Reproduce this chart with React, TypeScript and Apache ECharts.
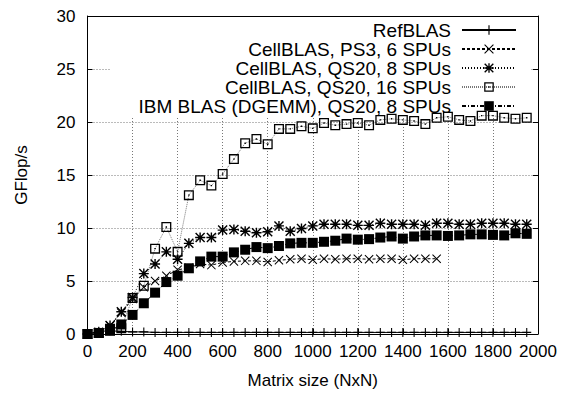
import React, { useEffect, useRef } from "react";
import * as echarts from "echarts";

const sizes = [0, 50, 100, 150, 200, 250, 300, 350, 400, 450, 500, 550, 600, 650, 700, 750, 800, 850, 900, 950,
  1000, 1050, 1100, 1150, 1200, 1250, 1300, 1350, 1400, 1450, 1500, 1550, 1600, 1650, 1700, 1750, 1800, 1850, 1900, 1950];

const refBlas = [0, 0.25, 0.3, 0.25, 0.2, 0.2, 0.15, 0.15, 0.15, 0.15, 0.15, 0.15, 0.15, 0.15, 0.15, 0.15, 0.15, 0.15, 0.15, 0.15,
  0.15, 0.15, 0.15, 0.15, 0.15, 0.15, 0.15, 0.15, 0.15, 0.15, 0.15, 0.15, 0.15, 0.15, 0.15, 0.15, 0.15, 0.15, 0.15, 0.15];

const ps3 = [0, 0.2, 0.8, 2.0, 3.3, 4.4, 5.0, 5.5, 6.05, 6.25, 6.6, 6.5, 6.75, 6.85, 6.9, 6.9, 6.8, 6.95, 7.05, 7.1,
  7.0, 7.1, 7.05, 7.1, 7.1, 7.05, 7.1, 7.1, 7.0, 7.1, 7.1, 7.1];

const qs20_8 = [0, 0.15, 0.8, 2.1, 3.45, 5.7, 6.6, 7.75, 7.05, 8.55, 9.1, 9.1, 9.8, 9.85, 9.7, 9.55, 9.65, 10.2, 9.7, 9.95,
  10.2, 10.35, 10.35, 10.35, 10.25, 10.25, 10.45, 10.35, 10.35, 10.35, 10.25, 10.45, 10.45, 10.35, 10.35, 10.45, 10.45, 10.45, 10.35, 10.35];

const qs20_16 = [0, 0.1, 0.5, 0.55, 3.4, 4.55, 8.05, 10.1, 7.75, 13.1, 14.5, 14.0, 15.1, 16.5, 18.0, 18.4, 17.9, 19.35, 19.35, 19.6,
  19.4, 19.9, 19.7, 19.8, 19.9, 19.7, 20.2, 20.3, 20.2, 20.1, 19.8, 20.4, 20.5, 20.2, 20.1, 20.6, 20.6, 20.4, 20.3, 20.4];

const dgemm = [0, 0.1, 0.3, 0.9, 1.8, 2.9, 3.9, 4.9, 5.5, 6.2, 6.85, 7.3, 7.3, 7.7, 7.95, 8.2, 8.1, 8.3, 8.55, 8.6,
  8.6, 8.7, 8.8, 9.0, 8.9, 8.95, 9.1, 9.2, 9.0, 9.2, 9.3, 9.3, 9.25, 9.3, 9.4, 9.4, 9.35, 9.3, 9.5, 9.45];

const seriesNames = [
  "RefBLAS",
  "CellBLAS, PS3, 6 SPUs",
  "CellBLAS, QS20, 8 SPUs",
  "CellBLAS, QS20, 16 SPUs",
  "IBM BLAS (DGEMM), QS20, 8 SPUs",
];

const xTicks = { min: 0, max: 2000, interval: 200 };
const yTicks = { min: 0, max: 30, interval: 5 };

const FONT = "Liberation Sans";

const PLUS = "path://M4.4,0H5.6V10H4.4Z M0,4.4H10V5.6H0Z";
const CROSS = "path://M0,0.8L0.8,0L10,9.2L9.2,10Z M9.2,0L10,0.8L0.8,10L0,9.2Z";
const STAR =
  "path://M4.3,0H5.7V10H4.3Z M0,4.3H10V5.7H0Z M0,1L1,0L10,9L9,10Z M9,0L10,1L1,10L0,9Z";
const BOXDOT = "path://M0,0H10V10H0Z M1.3,1.3V8.7H8.7V1.3Z M4.3,4.3H5.7V5.7H4.3Z";

const legendRowCenters = [30, 49, 68, 87, 106];

function pairs(ys: number[]) {
  return ys.map((y, i) => [sizes[i], y]);
}

export default function App() {
  const ref = useRef<HTMLDivElement>(null);
  useEffect(() => {
    document.body.style.margin = "0";
    if (!ref.current) return;
    const chart = echarts.init(ref.current, undefined, { renderer: "svg" });
    const axisCommon = {
      type: "value" as const,
      axisLine: { show: true, onZero: false, lineStyle: { color: "#000", width: 1 } },
      axisTick: { show: true, inside: true, length: 5, lineStyle: { color: "#000" } },
    };
    const series: any[] = [
      {
        name: seriesNames[0],
        type: "line",
        data: pairs(refBlas),
        symbol: PLUS,
        symbolSize: 9,
        itemStyle: { color: "#000" },
        lineStyle: { color: "#000", width: 1, type: "solid" },
        z: 3,
      },
      {
        name: seriesNames[1],
        type: "line",
        data: pairs(ps3),
        symbol: CROSS,
        symbolSize: 9,
        itemStyle: { color: "#000" },
        lineStyle: { color: "#000", width: 1, type: [3, 2] },
        z: 3,
      },
      {
        name: seriesNames[2],
        type: "line",
        data: pairs(qs20_8),
        symbol: STAR,
        symbolSize: 10,
        itemStyle: { color: "#000" },
        lineStyle: { color: "#000", width: 1, type: [1, 2] },
        z: 3,
      },
      {
        name: seriesNames[3],
        type: "line",
        data: pairs(qs20_16),
        symbol: BOXDOT,
        symbolSize: 10,
        itemStyle: { color: "#000" },
        lineStyle: { color: "#777", width: 1, type: [1, 1] },
        z: 3,
      },
      {
        name: seriesNames[4],
        type: "line",
        data: pairs(dgemm),
        symbol: "rect",
        symbolSize: 10,
        itemStyle: { color: "#000" },
        lineStyle: { color: "#000", width: 1, type: [4, 2, 1, 2] },
        z: 3,
      },
    ];
    const legends = seriesNames.map((name, i) => ({
      data: [name],
      orient: "vertical",
      right: 48,
      top: legendRowCenters[i] - 9.5,
      align: "right",
      padding: 0,
      itemWidth: 54,
      itemHeight: 12,
      itemGap: 0,
      selectedMode: false,
      textStyle: { color: "#000", fontSize: 19, fontFamily: FONT, lineHeight: 19, padding: [0, 6, 0, 0] },
    }));
    chart.setOption({
      animation: false,
      backgroundColor: "#fff",
      grid: { left: 87.5, right: 27, top: 16, bottom: 59, show: false },
      xAxis: [
        {
          ...axisCommon,
          ...xTicks,
          position: "bottom",
          axisLabel: { color: "#000", fontSize: 17, fontFamily: FONT, margin: 9, formatter: (v: number) => String(v) },
          splitLine: { show: true, lineStyle: { color: "#777", width: 1, type: [1, 2] } },
          name: "Matrix size (NxN)",
          nameLocation: "middle",
          nameGap: 38,
          nameTextStyle: { color: "#000", fontSize: 17, fontFamily: FONT },
        },
        {
          ...axisCommon,
          ...xTicks,
          position: "top",
          axisLabel: { show: false },
          splitLine: { show: false },
        },
      ],
      yAxis: [
        {
          ...axisCommon,
          ...yTicks,
          position: "left",
          axisLabel: { color: "#000", fontSize: 17, fontFamily: FONT, margin: 12, formatter: (v: number) => String(v) },
          splitLine: { show: true, lineStyle: { color: "#777", width: 1, type: [1, 2] } },
          name: "GFlop/s",
          nameLocation: "middle",
          nameGap: 58,
          nameTextStyle: { color: "#000", fontSize: 17, fontFamily: FONT },
        },
        {
          ...axisCommon,
          ...yTicks,
          position: "right",
          axisLabel: { show: false },
          splitLine: { show: false },
        },
      ],
      legend: legends,
      graphic: [
        {
          type: "rect",
          shape: { x: 110, y: 17, width: 420, height: 99 },
          style: { fill: "#fff" },
          z: 1,
        },
      ],
      series,
    });
    return () => chart.dispose();
  }, []);
  return <div ref={ref} style={{ width: 565, height: 394 }} />;
}
